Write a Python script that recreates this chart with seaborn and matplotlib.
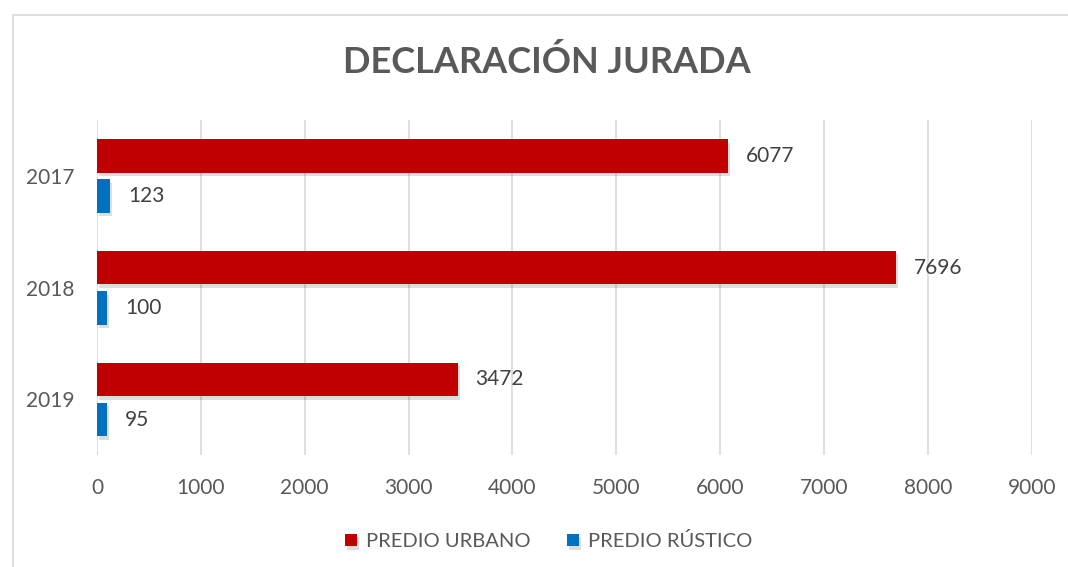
import matplotlib
matplotlib.use("Agg")
import matplotlib.pyplot as plt
import matplotlib.patheffects as pe
from matplotlib.patches import Rectangle
import seaborn as sns
import pandas as pd

years = ["2017", "2018", "2019"]
urbano = [6077, 7696, 3472]
rustico = [123, 100, 95]
series_names = ["PREDIO URBANO", "PREDIO RÚSTICO"]
colors = ["#C00000", "#0070C0"]
title = "DECLARACIÓN JURADA"
xticks = list(range(0, 10000, 1000))

df = pd.DataFrame({
    "year": years * 2,
    "value": urbano + rustico,
    "serie": [series_names[0]] * 3 + [series_names[1]] * 3,
})

sns.set_theme(style="white")
plt.rcParams["font.family"] = ["Lato", "DejaVu Sans"]

fig = plt.figure(figsize=(10.68, 5.67), dpi=100)
ax = fig.add_axes([0.0908, 0.197, 0.966 - 0.0908, 0.788 - 0.197])

sns.barplot(data=df, y="year", x="value", hue="serie", order=years,
            hue_order=series_names, palette=colors, orient="h",
            width=0.72, gap=0.17, ax=ax, legend=True, saturation=1)

shadow = [pe.SimplePatchShadow(offset=(1.5, -2.5), shadow_rgbFace="#000000", alpha=0.13), pe.Normal()]
for p in ax.patches:
    p.set_path_effects(shadow)
    p.set_edgecolor("none")

for cont in ax.containers:
    ax.bar_label(cont, labels=[f"{v:.0f}" for v in cont.datavalues], padding=13,
                 fontsize=15, color="#404040")

ax.set_xlim(0, 9000)
ax.set_ylim(2.5, -0.5)
ax.set_xticks(xticks)
ax.set_xticklabels([str(t) for t in xticks])
ax.grid(axis="x", color="#D9D9D9", linewidth=1.2)
ax.set_axisbelow(True)
for s in ax.spines.values():
    s.set_visible(False)
ax.tick_params(axis="both", labelsize=15, labelcolor="#595959", length=0)
ax.tick_params(axis="y", pad=16)
ax.tick_params(axis="x", pad=16)
ax.set_xlabel("")
ax.set_ylabel("")

leg = ax.legend(loc="upper center", bbox_to_anchor=(0.483, -0.175), ncol=2, frameon=False,
                fontsize=14.5, handlelength=0.6, handleheight=0.6, columnspacing=1.8,
                handletextpad=0.45)
for t in leg.get_texts():
    t.set_color("#595959")

fig.text(0.512, 0.89, title, ha="center", va="center", fontsize=26,
         fontweight="bold", color="#595959")

fig.patches.append(Rectangle((13 / 1068, -0.1), 1.2, 1 - 15 / 567 + 0.1,
                             transform=fig.transFigure, fill=False,
                             edgecolor="#D9D9D9", linewidth=1.2))

fig.savefig("out.png", dpi=100, facecolor="white")
